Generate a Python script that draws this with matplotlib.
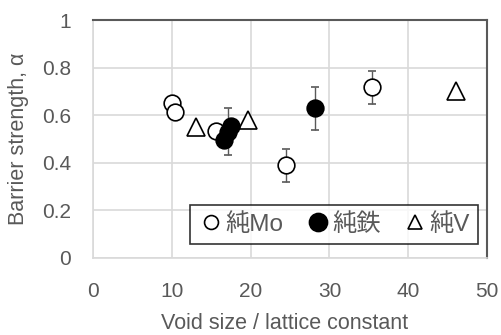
import matplotlib.pyplot as plt
from matplotlib.lines import Line2D
plt.rcParams['font.family'] = ['Liberation Sans', 'Noto Sans CJK JP']
plt.rcParams['font.size'] = 15

# 純Mo
mo_x = [10.0, 10.4, 15.6, 24.5, 35.4]
mo_y = [0.65, 0.615, 0.535, 0.39, 0.717]
mo_err = [0, 0, 0, 0.07, 0.07]
# 純鉄
fe_x = [16.6, 17.1, 17.5, 28.2]
fe_y = [0.496, 0.531, 0.556, 0.629]
fe_err = [0, 0.1, 0, 0.09]
# 純V
v_x = [13.1, 19.7, 46.1]
v_y = [0.552, 0.58, 0.703]

grey = '#595959'
grid = '#d9d9d9'

fig = plt.figure(figsize=(5.01, 3.35), dpi=100)
ax = fig.add_axes([0.186, 0.230, 0.786, 0.710])

ax.errorbar(mo_x, mo_y, yerr=mo_err, fmt='o', ms=12, mfc='white', mec='black',
            mew=1.2, ecolor=grey, elinewidth=1, capsize=3, zorder=3)
ax.errorbar(fe_x, fe_y, yerr=fe_err, fmt='o', ms=12, mfc='black', mec='black',
            mew=1.2, ecolor=grey, elinewidth=1, capsize=3, zorder=4)
ax.plot(v_x, v_y, '^', ms=13, mfc='white', mec='black', mew=1.2,
        linestyle='none', zorder=3)

ax.set_xlim(0, 50)
ax.set_ylim(0, 1)
ax.set_xticks(range(0, 51, 10))
ax.set_yticks([0, 0.2, 0.4, 0.6, 0.8, 1])
ax.set_yticklabels(['0', '0.2', '0.4', '0.6', '0.8', '1'])
ax.grid(True, color=grid, linewidth=1.2)
ax.set_axisbelow(True)
ax.tick_params(length=0, colors=grey, labelsize=15)
ax.tick_params(axis='y', pad=16)
ax.tick_params(axis='x', pad=17)

for s in ['left', 'bottom']:
    ax.spines[s].set_color(grid)
    ax.spines[s].set_linewidth(1.2)
for s in ['top', 'right']:
    ax.spines[s].set_color(grey)
    ax.spines[s].set_linewidth(1.5)

ax.set_xlabel('Void size / lattice constant', color=grey, fontsize=15.5)
ax.set_ylabel('Barrier strength, α', color=grey, fontsize=15.5)
ax.xaxis.set_label_coords(0.487, -0.23)
ax.yaxis.set_label_coords(-0.163, 0.5)

handles = [
    Line2D([], [], marker='o', ms=10, mfc='white', mec='black', mew=1.2, ls='none'),
    Line2D([], [], marker='o', ms=13, mfc='black', mec='black', mew=1.2, ls='none'),
    Line2D([], [], marker='^', ms=10, mfc='white', mec='black', mew=1.2, ls='none'),
]
leg = ax.legend(handles, ['純Mo', '純鉄', '純V'], loc='lower right',
                bbox_to_anchor=(0.977, 0.059), ncol=3,
                frameon=True, fancybox=False, edgecolor='black', fontsize=17.5,
                handletextpad=0.05, columnspacing=0.85, borderpad=0.33,
                handlelength=1.1, borderaxespad=0)
leg.get_frame().set_linewidth(1.2)
for t in leg.get_texts():
    t.set_color(grey)

fig.savefig('out.png', dpi=100)
